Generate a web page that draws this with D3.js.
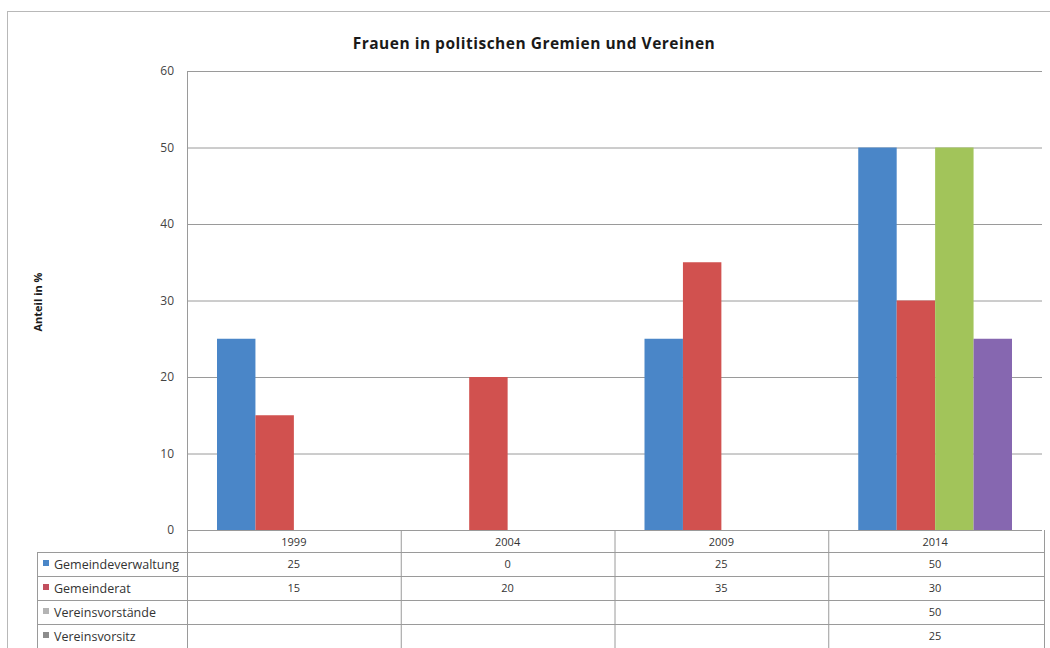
<!DOCTYPE html>
<html>
<head>
<meta charset="utf-8">
<script src="https://cdn.jsdelivr.net/npm/d3@7"></script>
<style>
  html, body { margin: 0; padding: 0; background: #fff; }
  svg { display: block; }
  text { font-family: "Open Sans", "DejaVu Sans", sans-serif; }
</style>
</head>
<body>
<svg id="chart" width="1050" height="648"></svg>
<script>
// Data
const years = ["1999", "2004", "2009", "2014"];
const seriesNames = ["Gemeindeverwaltung", "Gemeinderat", "Vereinsvorstände", "Vereinsvorsitz"];
const gemeindeverwaltung = [25, 0, 25, 50];
const gemeinderat = [15, 20, 35, 30];
const vereinsvorstaende = [null, null, null, 50];
const vereinsvorsitz = [null, null, null, 25];
const yTicks = [0, 10, 20, 30, 40, 50, 60];

const seriesValues = [gemeindeverwaltung, gemeinderat, vereinsvorstaende, vereinsvorsitz];
const barColors = ["#4a86c8", "#d1514f", "#a2c45a", "#8667b0"];
const keyColors = ["#4a86c8", "#c24f5e", "#b4b4b4", "#8c8c8c"];

const svg = d3.select("#chart");

// Outer chart frame
svg.append("rect")
  .attr("x", 7.5).attr("y", 11.5)
  .attr("width", 1050).attr("height", 660)
  .attr("fill", "#fff").attr("stroke", "#b8b8b8");

const plot = { left: 187, right: 1042, top: 71, bottom: 530 };

const x0 = d3.scaleBand().domain(years).range([plot.left, plot.right]);
const x1 = d3.scaleBand().domain(seriesNames)
  .range([30, x0.bandwidth() - 30]);
const y = d3.scaleLinear().domain([0, 60]).range([plot.bottom, plot.top]);

// Title
svg.append("text")
  .attr("x", 534).attr("y", 49)
  .attr("text-anchor", "middle")
  .attr("font-size", 15.5).attr("font-weight", "bold")
  .attr("letter-spacing", 0.5)
  .attr("fill", "#1a1a1a")
  .text("Frauen in politischen Gremien und Vereinen");

// Y axis title
svg.append("text")
  .attr("transform", "translate(42,302) rotate(-90)")
  .attr("text-anchor", "middle")
  .attr("font-size", 11).attr("font-weight", "bold")
  .attr("fill", "#1a1a1a")
  .text("Anteil in %");

// Gridlines
svg.append("g")
  .attr("transform", `translate(${plot.left},0)`)
  .call(d3.axisLeft(y).tickValues(yTicks).tickSize(-(plot.right - plot.left)).tickFormat(""))
  .call(g => g.select(".domain").remove())
  .call(g => g.selectAll("line").attr("stroke", "#9a9a9a"));

// Y tick labels
svg.append("g")
  .attr("transform", `translate(${plot.left - 13},0)`)
  .call(d3.axisLeft(y).tickValues(yTicks).tickSize(0).tickPadding(0))
  .call(g => g.select(".domain").remove())
  .call(g => g.selectAll("text")
    .attr("font-family", "'Open Sans', sans-serif")
    .attr("font-size", 12).attr("fill", "#444"));

// Bars
const groups = svg.append("g").selectAll("g")
  .data(years)
  .join("g")
  .attr("transform", d => `translate(${x0(d)},0)`);

groups.selectAll("rect")
  .data((d, i) => seriesNames
    .map((s, j) => ({ s, j, v: seriesValues[j][i] }))
    .filter(o => o.v !== null))
  .join("rect")
  .attr("x", d => x1(d.s))
  .attr("width", x1.bandwidth())
  .attr("y", d => y(d.v))
  .attr("height", d => y(0) - y(d.v))
  .attr("fill", d => barColors[d.j]);

// Plot left edge
svg.append("line")
  .attr("x1", plot.left + 0.5).attr("x2", plot.left + 0.5)
  .attr("y1", plot.top).attr("y2", 648)
  .attr("stroke", "#9a9a9a");

// Data table below the axis
const headerBottom = 552;
const rowH = 24;
const tableLeft = 37;
const tableRight = plot.right + 2;
const tbl = svg.append("g");

// header row: column borders and year labels
tbl.append("line")
  .attr("x1", tableRight + 0.5).attr("x2", tableRight + 0.5)
  .attr("y1", plot.bottom).attr("y2", 648)
  .attr("stroke", "#9a9a9a");
tbl.selectAll("line.col")
  .data(years.slice(1))
  .join("line")
  .attr("class", "col")
  .attr("x1", d => x0(d) + 0.5).attr("x2", d => x0(d) + 0.5)
  .attr("y1", plot.bottom).attr("y2", 648)
  .attr("stroke", "#9a9a9a");
tbl.selectAll("text.year")
  .data(years)
  .join("text")
  .attr("class", "year")
  .attr("x", d => x0(d) + x0.bandwidth() / 2)
  .attr("y", plot.bottom + 16)
  .attr("text-anchor", "middle")
  .attr("font-size", 11).attr("fill", "#333")
  .text(d => d);

// horizontal row lines
const rowLines = d3.range(seriesNames.length + 1).map(i => headerBottom + i * rowH);
tbl.selectAll("line.row")
  .data(rowLines)
  .join("line")
  .attr("class", "row")
  .attr("x1", tableLeft).attr("x2", tableRight)
  .attr("y1", d => d + 0.5).attr("y2", d => d + 0.5)
  .attr("stroke", "#9a9a9a");
tbl.append("line")
  .attr("x1", tableLeft + 0.5).attr("x2", tableLeft + 0.5)
  .attr("y1", headerBottom).attr("y2", 648)
  .attr("stroke", "#9a9a9a");

// series rows: legend key, name, values
const rows = tbl.selectAll("g.srow")
  .data(seriesNames)
  .join("g")
  .attr("class", "srow")
  .attr("transform", (d, i) => `translate(0,${headerBottom + i * rowH})`);

rows.append("rect")
  .attr("x", 43).attr("y", rowH / 2 - 4)
  .attr("width", 6).attr("height", 6)
  .attr("fill", (d, i) => keyColors[i]);

rows.append("text")
  .attr("x", 54).attr("y", rowH / 2 + 4.5)
  .attr("font-size", 12.5).attr("fill", "#333")
  .text(d => d);

rows.selectAll("text.val")
  .data((d, i) => years.map((yr, k) => ({ yr, v: seriesValues[i][k] }))
    .filter(o => o.v !== null))
  .join("text")
  .attr("class", "val")
  .attr("x", d => x0(d.yr) + x0.bandwidth() / 2)
  .attr("y", rowH / 2 + 4)
  .attr("text-anchor", "middle")
  .attr("font-size", 11).attr("fill", "#333")
  .text(d => d.v);
</script>
</body>
</html>
